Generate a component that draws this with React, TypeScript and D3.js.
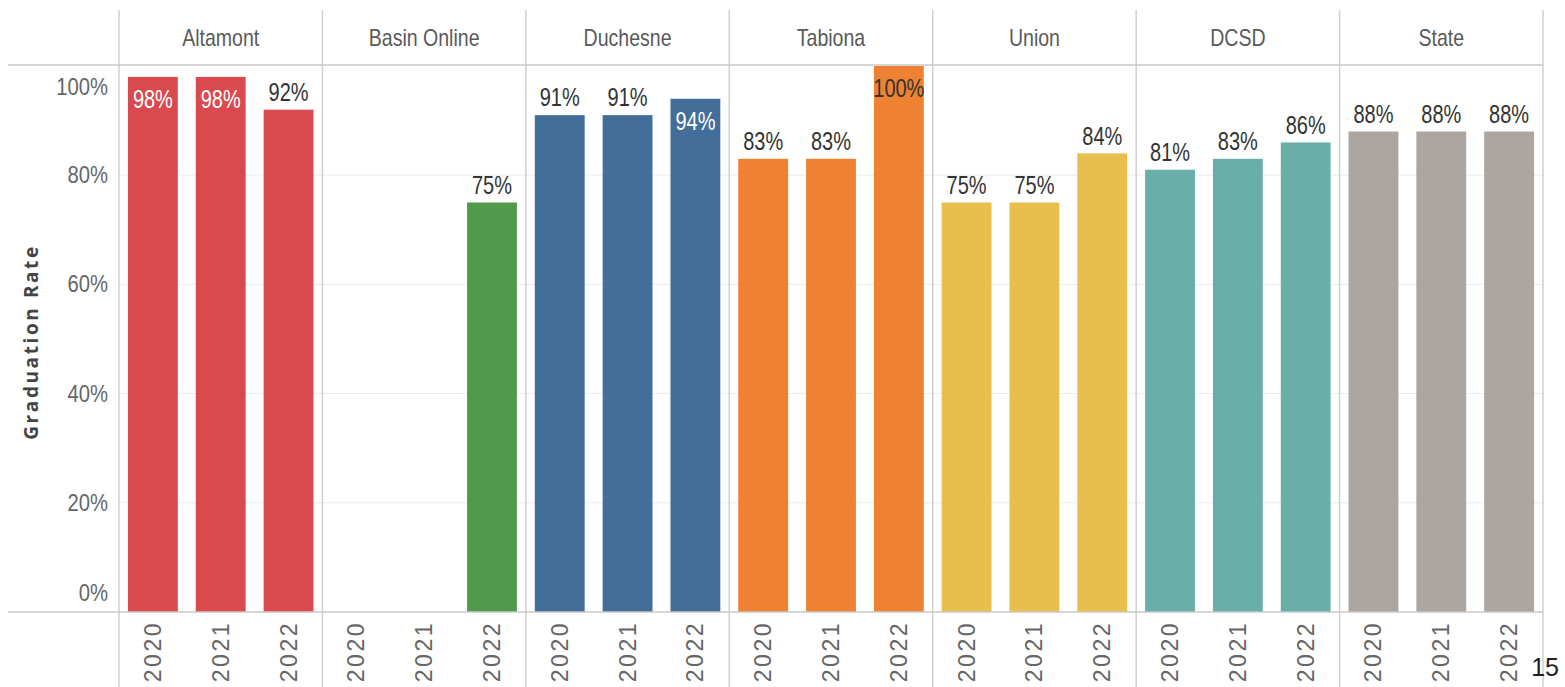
import * as d3 from "d3";

// données
const districts = ["Altamont", "Basin Online", "Duchesne", "Tabiona", "Union", "DCSD", "State"];
const years = ["2020", "2021", "2022"];
const altamont = [98, 98, 92];
const basinOnline = [null, null, 75];
const duchesne = [91, 91, 94];
const tabiona = [83, 83, 100];
const union = [75, 75, 84];
const dcsd = [81, 83, 86];
const state = [88, 88, 88];
const yTicks = [0, 20, 40, 60, 80, 100];
const colors = ["#d9494e", "#519a4b", "#436e9a", "#ee8132", "#e8be4c", "#69aea9", "#ada5a0"];

const seriesValues = [altamont, basinOnline, duchesne, tabiona, union, dcsd, state];

const W = 1565;
const H = 687;
const left = 119;
const right = 1543;
const top = 66;
const baseline = 612;
const headerTop = 10;

const sansFont = "'Liberation Sans', Arial, sans-serif";

// texte étroit (police Tableau condensée)
const NarrowText = ({ x, y, size, sx, anchor = "middle", fill, children }:
  { x: number, y: number, size: number, sx: number, anchor?: string, fill: string, children: any }) => (
  <text transform={`translate(${x},${y}) scale(${sx},1)`} textAnchor={anchor as any}
    dominantBaseline="central" fontFamily={sansFont} fontSize={size} fill={fill}>
    {children}
  </text>
);

const App = () => {
  const xOuter = d3.scaleBand<string>().domain(districts).range([left, right]).padding(0);
  const xInner = d3.scaleBand<string>().domain(years).range([0, xOuter.bandwidth()])
    .paddingInner(0.265).paddingOuter(0.132);
  const y = d3.scaleLinear().domain([0, 100]).range([baseline, top]);

  const bars = districts.flatMap((d, i) =>
    years.map((yr, j) => ({ district: d, year: yr, value: seriesValues[i][j], color: colors[i] }))
  ).filter(b => b.value !== null) as { district: string, year: string, value: number, color: string }[];

  return (
    <svg width={W} height={H} style={{ position: "absolute", left: 0, top: 0, background: "#fff" }}>
      {/* grille */}
      {yTicks.filter(t => t > 0 && t < 100).map(t => (
        <line key={t} x1={left} x2={right} y1={y(t)} y2={y(t)} stroke="#ececec" strokeWidth={1} />
      ))}

      {/* barres */}
      {bars.map(b => (
        <rect key={b.district + b.year}
          x={xOuter(b.district)! + xInner(b.year)!}
          y={y(b.value)}
          width={xInner.bandwidth()}
          height={baseline - y(b.value)}
          fill={b.color} />
      ))}

      {/* étiquettes des valeurs */}
      {bars.map(b => {
        const inside = b.value > 93;
        const cx = xOuter(b.district)! + xInner(b.year)! + xInner.bandwidth() / 2;
        const fill = inside ? (b.district === "Tabiona" ? "#333" : "#fff") : "#333";
        return (
          <NarrowText key={"l" + b.district + b.year} x={cx}
            y={inside ? y(b.value) + 23 : y(b.value) - 17}
            size={25} sx={0.8} fill={fill}>
            {b.value + "%"}
          </NarrowText>
        );
      })}

      {/* séparateurs verticaux */}
      {[...districts.map(d => xOuter(d)!), right].map((x, i) => (
        <line key={"v" + i} x1={x} x2={x} y1={headerTop} y2={H} stroke="#cfcfcf" strokeWidth={1.5} />
      ))}

      {/* lignes horizontales */}
      <line x1={8} x2={right} y1={65} y2={65} stroke="#c8c8c8" strokeWidth={1.5} />
      <line x1={8} x2={right} y1={baseline} y2={baseline} stroke="#c8c8c8" strokeWidth={1.5} />

      {/* en-têtes */}
      {districts.map(d => (
        <NarrowText key={"h" + d} x={xOuter(d)! + xOuter.bandwidth() / 2} y={38}
          size={23} sx={0.85} fill="#5a5a5a">
          {d}
        </NarrowText>
      ))}

      {/* axe Y */}
      {yTicks.map(t => {
        let yy = y(t);
        if (t === 0) yy -= 19;
        if (t === 100) yy += 21;
        return (
          <NarrowText key={"t" + t} x={108} y={yy} anchor="end" size={23} sx={0.88} fill="#666">
            {t + "%"}
          </NarrowText>
        );
      })}
      <text transform={`translate(31,342) rotate(-90)`} textAnchor="middle" dominantBaseline="central"
        fontFamily="'Open Sans', sans-serif" fontWeight={700} fontSize={19} letterSpacing={2.6} fill="#444">
        Graduation Rate
      </text>

      {/* années */}
      {districts.flatMap(d => years.map(yr => (
        <text key={"y" + d + yr}
          transform={`translate(${xOuter(d)! + xInner(yr)! + xInner.bandwidth() / 2},621) rotate(-90)`}
          textAnchor="end" dominantBaseline="central"
          fontFamily={sansFont} fontSize={23} letterSpacing={2.5} fill="#666">
          {yr}
        </text>
      )))}

      <text x={1559} y={676} textAnchor="end" fontFamily={sansFont} fontSize={25} fill="#222">15</text>
    </svg>
  );
};

export default App;
